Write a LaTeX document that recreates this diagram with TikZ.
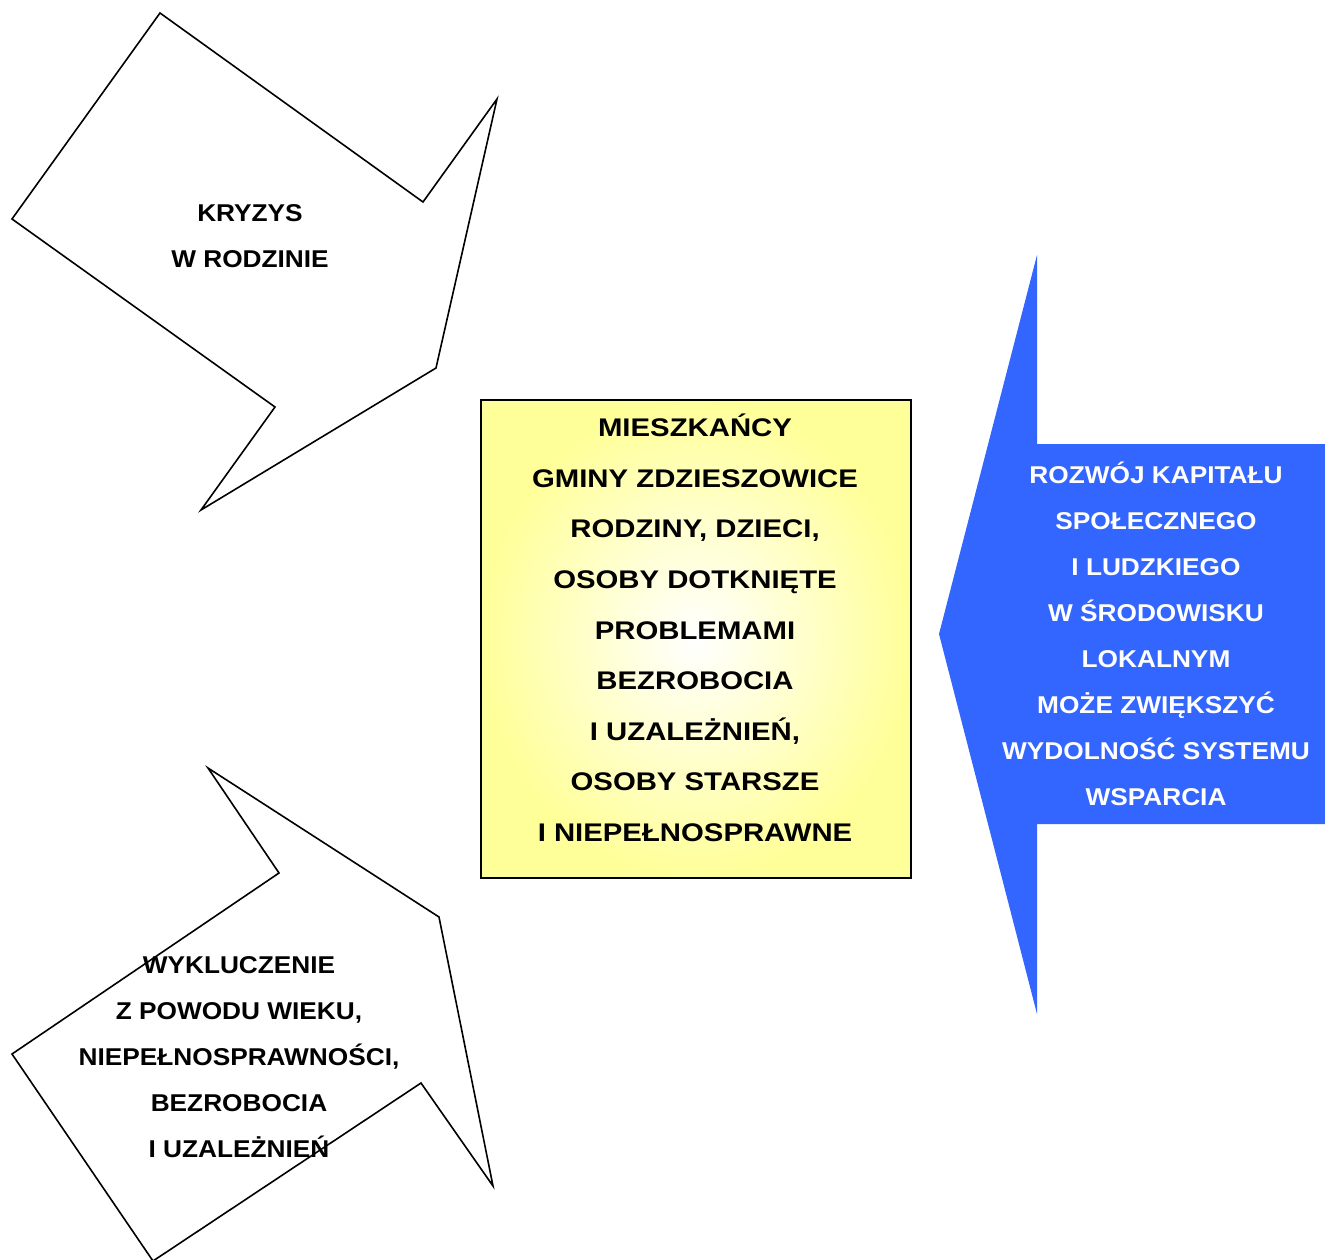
\documentclass[tikz,border=0pt]{standalone}
\usepackage{fontspec}
\newfontfamily\fa{Liberation Sans}[FakeStretch=1.08]
\newfontfamily\fb{Liberation Sans}[FakeStretch=1.15]
\definecolor{boxyellow}{HTML}{FFFF99}
\definecolor{arrowblue}{HTML}{3366FF}
\begin{document}
\begin{tikzpicture}[x=1pt,y=-1pt,
  outline/.style={draw=black,line width=1.6pt,line join=miter},
  lbl/.style={align=center,inner sep=0pt,font=\fa\bfseries\fontsize{24.3}{46}\selectfont},
  boxlbl/.style={align=center,inner sep=0pt,font=\fb\bfseries\fontsize{25.5}{50.6}\selectfont}]
\useasboundingbox (0,0) rectangle (1325,1260);
% upper left arrow
\draw[outline] (160,13) -- (423,202) -- (497,99) -- (436,368) -- (201,510) -- (275,407) -- (12,219) -- cycle;
% lower left arrow
\draw[outline] (208,768) -- (279,873) -- (12,1054) -- (153,1261) -- (421,1083) -- (493,1186) -- (439,917) -- cycle;
% blue arrow
\fill[arrowblue] (939,634) -- (1037,255) -- (1037,444) -- (1325,444) -- (1325,824) -- (1037,824) -- (1037,1014) -- cycle;
% central box
\node[draw=black,line width=1.7pt,inner color=white,outer color=boxyellow,
      minimum width=430pt,minimum height=478pt,anchor=north west] (box) at (480,399) {};
\node[boxlbl] (mieszk) at (695,628) {MIESZKAŃCY\\GMINY ZDZIESZOWICE\\RODZINY, DZIECI,\\OSOBY DOTKNIĘTE\\PROBLEMAMI\\BEZROBOCIA\\I UZALEŻNIEŃ,\\OSOBY STARSZE\\I NIEPEŁNOSPRAWNE};
\node[lbl] (kryzys) at (250,236) {KRYZYS\\W RODZINIE};
\node[lbl] (wyklucz) at (239,1057) {WYKLUCZENIE\\Z POWODU WIEKU,\\NIEPEŁNOSPRAWNOŚCI,\\BEZROBOCIA\\I UZALEŻNIEŃ};
\node[lbl,text=white] (rozwoj) at (1156,634) {ROZWÓJ KAPITAŁU\\SPOŁECZNEGO\\I LUDZKIEGO\\W ŚRODOWISKU\\LOKALNYM\\MOŻE ZWIĘKSZYĆ\\WYDOLNOŚĆ SYSTEMU\\WSPARCIA};
\end{tikzpicture}
\end{document}
